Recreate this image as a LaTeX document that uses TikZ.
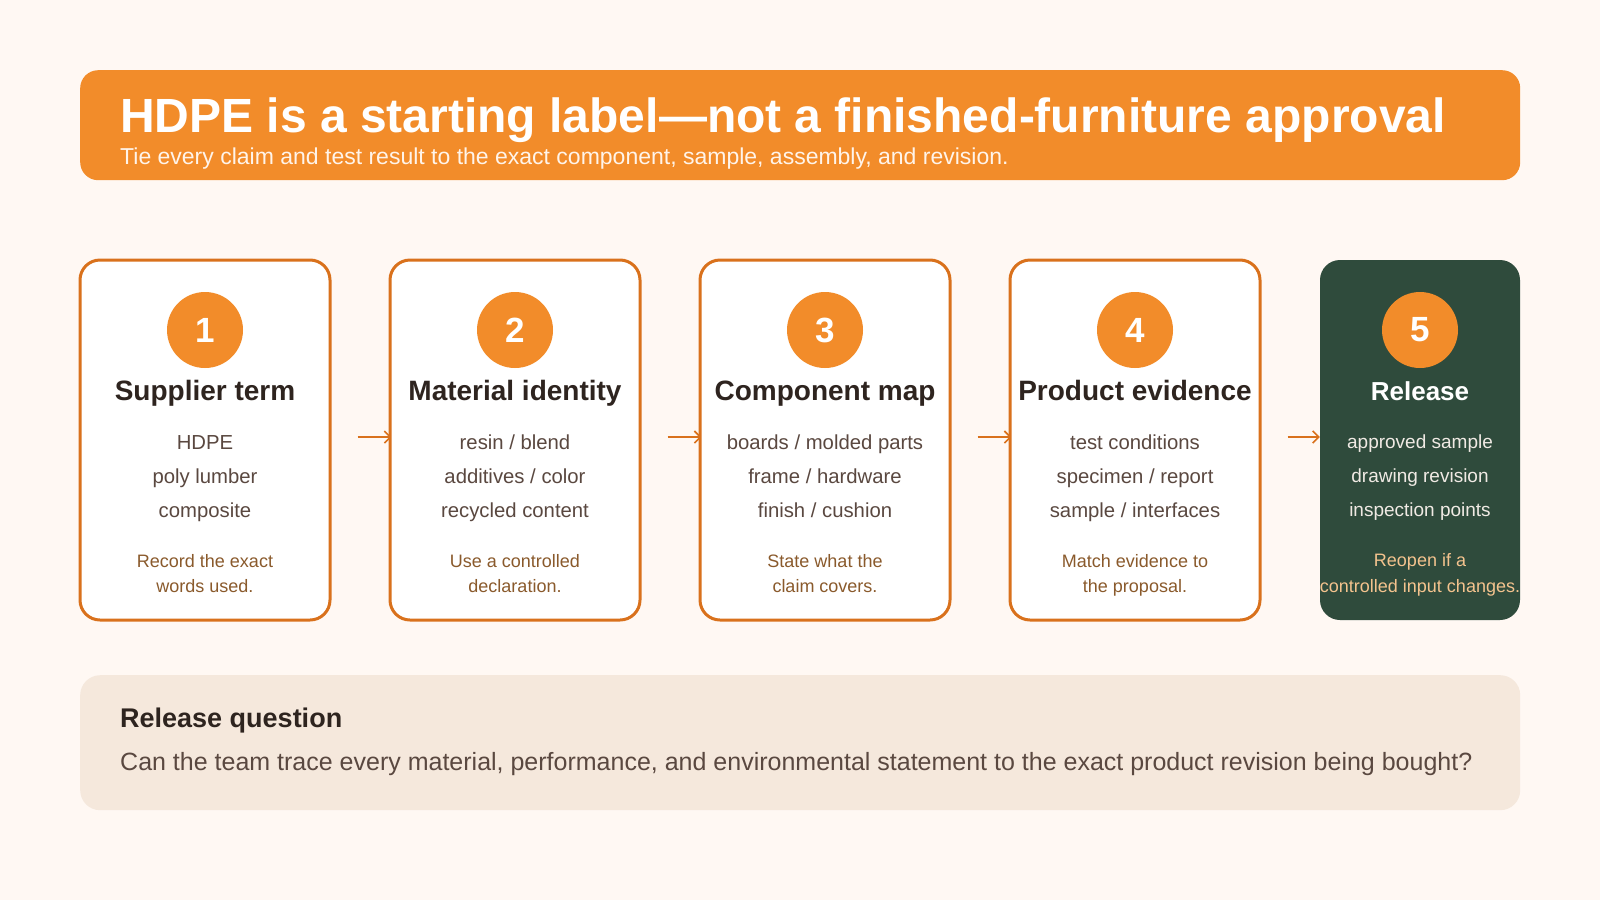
\documentclass[tikz,border=0pt]{standalone}
\usepackage{fontspec}
\setmainfont{Liberation Sans}
\usetikzlibrary{arrows.meta}
\definecolor{pagebg}{HTML}{FFF8F3}
\definecolor{hdrorange}{HTML}{F28C2A}
\definecolor{cardedge}{HTML}{D9711C}
\definecolor{titletext}{HTML}{2E241F}
\definecolor{itemtext}{HTML}{5A4840}
\definecolor{notetext}{HTML}{8A5A2C}
\definecolor{relgreen}{HTML}{2F4B3C}
\definecolor{qfill}{HTML}{F5E8DC}
\definecolor{relitem}{HTML}{F0EAE4}
\definecolor{relnote}{HTML}{F4C38E}
\definecolor{subwhite}{HTML}{FFF4EA}
\pgfdeclarelayer{bglayer}
\pgfsetlayers{bglayer,main}
\newcommand{\fsz}[2]{\fontsize{#1pt}{#2pt}\selectfont}
\tikzset{
  cardbox/.style={draw=cardedge, line width=3pt, fill=white, rounded corners=20pt,
    minimum width=250pt, minimum height=360pt, inner sep=0pt},
  relbox/.style={fill=relgreen, rounded corners=20pt,
    minimum width=200pt, minimum height=360pt, inner sep=0pt},
  numdisc/.style={circle, fill=hdrorange, minimum size=76pt, inner sep=0pt,
    text=white, font=\fsz{35}{40}\bfseries},
  cardtitle/.style={anchor=base, inner sep=0pt, text=titletext, font=\fsz{28}{34}\bfseries},
  itemline/.style={anchor=base, inner sep=0pt, text=itemtext, font=\fsz{20.3}{24}},
  noteline/.style={anchor=base, inner sep=0pt, text=notetext, font=\fsz{18}{22}},
  reltitle/.style={anchor=base, inner sep=0pt, text=white, font=\fsz{26}{32}\bfseries},
  relitemline/.style={anchor=base, inner sep=0pt, text=relitem, font=\fsz{19}{23}},
  relnoteline/.style={anchor=base, inner sep=0pt, text=relnote, font=\fsz{18}{22}},
  flow/.style={draw=cardedge, line width=2pt,
    -{Straight Barb[length=6pt,width=12pt,line width=1.6pt]}},
}
\newcommand{\stepcard}[8]{%
  \node[cardbox] (c#1) at (#2,440) {};
  \node[numdisc] (n#1) at (#2,330) {#1};
  \node[cardtitle] (t#1) at (#2,400) {#3};
  \node[itemline] (i#1a) at (#2,449) {#4};
  \node[itemline] (i#1b) at (#2,483) {#5};
  \node[itemline] (i#1c) at (#2,517) {#6};
  \node[noteline] (m#1a) at (#2,567) {#7};
  \node[noteline] (m#1b) at (#2,592) {#8};
}
\begin{document}
\begin{tikzpicture}[x=1pt,y=-1pt]
\begin{pgfonlayer}{bglayer}
  \fill[pagebg] (0,0) rectangle (1600,900);
\end{pgfonlayer}
\useasboundingbox (0,0) rectangle (1600,900);

% header
\node[fill=hdrorange, rounded corners=18pt, minimum width=1440pt, minimum height=110pt,
  inner sep=0pt, anchor=north west] (header) at (80,70) {};
\node[anchor=base west, inner sep=0pt, text=white, font=\fsz{48}{56}\bfseries] (htitle) at (120,132)
  {HDPE is a starting label—not a finished-furniture approval};
\node[anchor=base west, inner sep=0pt, text=subwhite, font=\fsz{23}{27}] (hsub) at (120,164)
  {Tie every claim and test result to the exact component, sample, assembly, and revision.};

% cards
\stepcard{1}{205}{Supplier term}{HDPE}{poly lumber}{composite}{Record the exact}{words used.}
\stepcard{2}{515}{Material identity}{resin / blend}{additives / color}{recycled content}{Use a controlled}{declaration.}
\stepcard{3}{825}{Component map}{boards / molded parts}{frame / hardware}{finish / cushion}{State what the}{claim covers.}
\stepcard{4}{1135}{Product evidence}{test conditions}{specimen / report}{sample / interfaces}{Match evidence to}{the proposal.}

\node[relbox] (c5) at (1420,440) {};
\node[numdisc] (n5) at (1420,330) {5};
\node[reltitle] (t5) at (1420,400) {Release};
\node[relitemline] (i5a) at (1420,448) {approved sample};
\node[relitemline] (i5b) at (1420,482) {drawing revision};
\node[relitemline] (i5c) at (1420,516) {inspection points};
\node[relnoteline] (m5a) at (1420,566) {Reopen if a};
\node[relnoteline] (m5b) at (1420,592) {controlled input changes.};

% connectors (behind the cards)
\begin{pgfonlayer}{bglayer}
  \draw[flow] ([xshift=26pt,yshift=3pt]c1.east) -- ([xshift=3pt,yshift=3pt]c2.west);
  \draw[flow] ([xshift=26pt,yshift=3pt]c2.east) -- ([xshift=3pt,yshift=3pt]c3.west);
  \draw[flow] ([xshift=26pt,yshift=3pt]c3.east) -- ([xshift=3pt,yshift=3pt]c4.west);
  \draw[flow] ([xshift=26pt,yshift=3pt]c4.east) -- ([yshift=3pt]c5.west);
\end{pgfonlayer}

% release question
\node[fill=qfill, rounded corners=20pt, minimum width=1440pt, minimum height=135pt,
  inner sep=0pt, anchor=north west] (qbox) at (80,675) {};
\node[anchor=base west, inner sep=0pt, text=titletext, font=\fsz{27}{32}\bfseries] (qtitle) at (120,727)
  {Release question};
\node[anchor=base west, inner sep=0pt, text=itemtext, font=\fsz{25}{30}] (qtext) at (120,770)
  {Can the team trace every material, performance, and environmental statement to the exact product revision being bought?};
\end{tikzpicture}
\end{document}
